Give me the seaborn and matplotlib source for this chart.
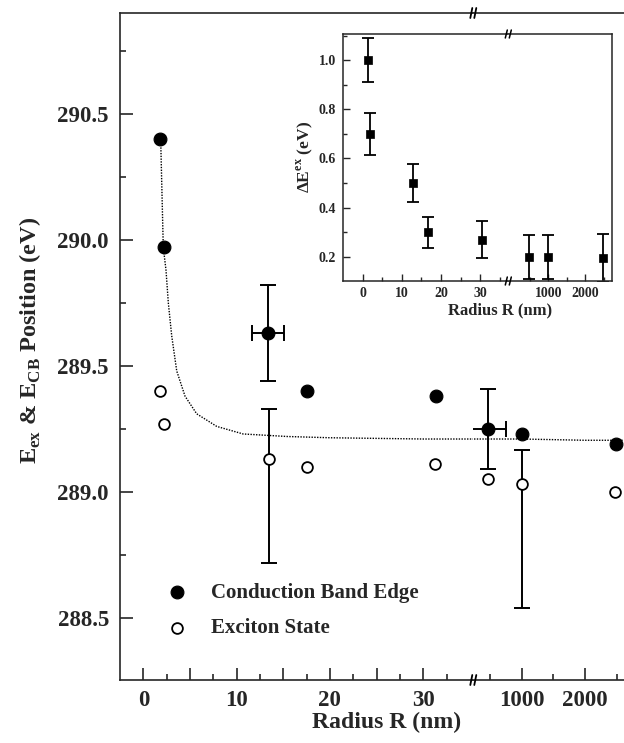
import matplotlib
matplotlib.use("Agg")
import matplotlib.pyplot as plt
import matplotlib.ticker as ticker
from matplotlib.lines import Line2D
import pandas as pd
import seaborn as sns

W, H = 624, 743

# conduction band edge (filled) and exciton state (open); radius in nm
radius_cb = [1.8, 2.25, 13.4, 17.5, 31.4, 468, 1000, 2485]
energy_cb = [290.40, 289.97, 289.63, 289.40, 289.38, 289.25, 289.23, 289.19]
radius_ex = [1.8, 2.25, 13.5, 17.5, 31.3, 468, 1000, 2474]
energy_ex = [289.40, 289.27, 289.13, 289.10, 289.11, 289.05, 289.03, 289.00]

# error bars on selected points
cb_err_idx = [2, 5]
cb_yerr = [0.19, 0.16]
cb_xerr = [1.7, 276]
ex_err_idx = [2, 6]
ex_yerr_lo = [0.41, 0.49]
ex_yerr_hi = [0.20, 0.135]

# dotted guide curve
fit_radius = [1.86, 2.14, 2.43, 2.68, 3.04, 3.58, 4.47, 5.72, 7.87, 10.7, 15.4,
              20, 30, 35.4, 235, 1000, 2000, 2616]
fit_energy = [290.40, 289.97, 289.88, 289.75, 289.62, 289.48, 289.38, 289.31,
              289.26, 289.23, 289.22, 289.215, 289.21, 289.21, 289.21, 289.21,
              289.205, 289.205]

# inset: exciton shift
inset_radius = [1.3, 1.9, 12.8, 16.8, 30.6, 480, 1000, 2470]
inset_shift = [1.00, 0.70, 0.50, 0.30, 0.27, 0.20, 0.20, 0.195]
inset_err = [0.09, 0.087, 0.076, 0.063, 0.075, 0.09, 0.09, 0.097]

cb = pd.DataFrame({"R": radius_cb, "E": energy_cb})
cb["yerr"] = 0.0
cb["xerr"] = 0.0
cb.loc[cb_err_idx, "yerr"] = cb_yerr
cb.loc[cb_err_idx, "xerr"] = cb_xerr
ex = pd.DataFrame({"R": radius_ex, "E": energy_ex})
ex["lo"] = 0.0
ex["hi"] = 0.0
ex.loc[ex_err_idx, "lo"] = ex_yerr_lo
ex.loc[ex_err_idx, "hi"] = ex_yerr_hi
fit = pd.DataFrame({"R": fit_radius, "E": fit_energy})
ins = pd.DataFrame({"R": inset_radius, "dE": inset_shift, "err": inset_err})

BREAK = 100  # radii below this go on the left segment

sns.set_theme(style="ticks")
plt.rcParams["font.family"] = ["Liberation Serif", "DejaVu Serif"]
plt.rcParams["font.weight"] = "bold"
plt.rcParams["mathtext.fontset"] = "custom"
plt.rcParams["mathtext.rm"] = "Liberation Serif:bold"
plt.rcParams["mathtext.bf"] = "Liberation Serif:bold"
plt.rcParams["axes.linewidth"] = 1.2


def px_rect(x0, y0, x1, y1):
    return [x0 / W, 1 - y1 / H, (x1 - x0) / W, (y1 - y0) / H]


def draw_break(fig, x, y, size=5, lw=1.3):
    for dx in (-2.0, 2.0):
        fig.add_artist(Line2D([(x + dx - 1) / W, (x + dx + 1) / W],
                              [1 - (y + size) / H, 1 - (y - size) / H],
                              transform=fig.transFigure, color="black", lw=lw))


def side(df, left):
    return df[df["R"] < BREAK] if left else df[df["R"] >= BREAK]


fig = plt.figure(figsize=(W / 100, H / 100), dpi=100)

ax_l = fig.add_axes(px_rect(120, 13, 473.3, 680))
ax_r = fig.add_axes(px_rect(473.3, 13, 624, 680), sharey=ax_l)

for ax, left in ((ax_l, True), (ax_r, False)):
    sns.lineplot(data=fit, x="R", y="E", ax=ax, sort=False, estimator=None,
                 color="black", lw=1.0, linestyle=(0, (1, 1)), legend=False)
    c = side(cb, left)
    c = c[c["yerr"] > 0]
    ax.errorbar(c["R"], c["E"], yerr=c["yerr"], xerr=c["xerr"], fmt="none",
                ecolor="black", elinewidth=1.4, capsize=6, capthick=1.4)
    e = side(ex, left)
    e = e[e["lo"] > 0]
    ax.errorbar(e["R"], e["E"], yerr=[e["lo"], e["hi"]], fmt="none",
                ecolor="black", elinewidth=1.4, capsize=6, capthick=1.4)
    sns.scatterplot(data=side(cb, left), x="R", y="E", ax=ax, color="black", s=85,
                    edgecolor="black", linewidth=0.8, zorder=5,
                    label="Conduction Band Edge" if left else None, legend=False)
    sns.scatterplot(data=side(ex, left), x="R", y="E", ax=ax, color="white", s=60,
                    edgecolor="black", linewidth=1.3, zorder=5,
                    label="Exciton State" if left else None, legend=False)
    ax.set_xlabel("")
    ax.set_ylabel("")

ax_l.set_xlim(-2.5, 35.37)
ax_r.set_xlim(235, 2616)
ax_l.set_ylim(288.254, 290.90)

ax_l.xaxis.set_major_locator(ticker.FixedLocator([0, 5, 10, 15, 20, 25, 30]))
ax_l.xaxis.set_major_formatter(ticker.FuncFormatter(
    lambda v, p: f"{v:.0f}" if round(v) % 10 == 0 else ""))
ax_l.xaxis.set_minor_locator(ticker.FixedLocator([2.5, 7.5, 12.5, 17.5, 22.5, 27.5, 32.5]))
ax_r.xaxis.set_major_locator(ticker.FixedLocator([1000, 2000]))
ax_r.xaxis.set_minor_locator(ticker.FixedLocator([500, 1500, 2500]))
ax_l.yaxis.set_major_locator(ticker.MultipleLocator(0.5))
ax_l.yaxis.set_minor_locator(ticker.MultipleLocator(0.25))
ax_l.yaxis.set_major_formatter(ticker.FormatStrFormatter("%.1f"))

for ax in (ax_l, ax_r):
    ax.tick_params(which="major", direction="in", length=9, width=1.2,
                   labelsize=16.5, pad=7)
    ax.tick_params(which="minor", direction="in", length=4, width=1.2)
    ax.spines["right"].set_visible(False)
ax_r.spines["left"].set_visible(False)
ax_r.tick_params(axis="y", which="both", left=False, labelleft=False)
ax_l.tick_params(axis="y", pad=8)

ax_l.legend(loc="upper left", bbox_to_anchor=(0.133, 0.146), frameon=False,
            handlelength=1.0, handletextpad=1.1, borderpad=0,
            borderaxespad=0, labelspacing=0.75, prop={"weight": "bold", "size": 15})

fig.text(387 / W, 1 - 722 / H, "Radius R (nm)", ha="center", va="center",
         fontsize=17, fontweight="bold")
fig.text(30 / W, 1 - 340 / H, r"E$_{\mathrm{ex}}$ & E$_{\mathrm{CB}}$ Position (eV)",
         ha="center", va="center", rotation=90, fontsize=17.5, fontweight="bold")

# inset
ax_il = fig.add_axes(px_rect(343, 34, 508.3, 281))
ax_ir = fig.add_axes(px_rect(508.3, 34, 612, 281), sharey=ax_il)
for ax, left in ((ax_il, True), (ax_ir, False)):
    d = side(ins, left)
    ax.set_facecolor("white")
    ax.errorbar(d["R"], d["dE"], yerr=d["err"], fmt="none", ecolor="black",
                elinewidth=1.3, capsize=4, capthick=1.3)
    sns.scatterplot(data=d, x="R", y="dE", ax=ax, marker="s", color="black",
                    s=28, edgecolor="black", linewidth=0.5, zorder=5, legend=False)
    ax.set_xlabel("")
    ax.set_ylabel("")
    ax.tick_params(which="major", direction="in", length=5, width=1.0,
                   labelsize=10, pad=4)
    ax.tick_params(which="minor", direction="in", length=3, width=1.0)
    for s in ax.spines.values():
        s.set_linewidth(1.1)

ax_il.set_xlim(-5.04, 37.2)
ax_ir.set_xlim(-81, 2722)
ax_il.set_ylim(0.101, 1.107)
ax_il.spines["right"].set_visible(False)
ax_ir.spines["left"].set_visible(False)
ax_ir.tick_params(axis="y", which="both", left=False, labelleft=False)
ax_il.tick_params(axis="y", pad=5)
ax_il.xaxis.set_major_locator(ticker.FixedLocator([0, 10, 20, 30]))
ax_il.xaxis.set_minor_locator(ticker.FixedLocator([5, 15, 25, 35]))
ax_ir.xaxis.set_major_locator(ticker.FixedLocator([1000, 2000]))
ax_ir.xaxis.set_minor_locator(ticker.FixedLocator([500, 1500, 2500]))
ax_il.yaxis.set_major_locator(ticker.MultipleLocator(0.2))
ax_il.yaxis.set_minor_locator(ticker.MultipleLocator(0.1))
ax_il.yaxis.set_major_formatter(ticker.FormatStrFormatter("%.1f"))

fig.text(500 / W, 1 - 310 / H, "Radius R (nm)", ha="center", va="center",
         fontsize=12, fontweight="bold")
fig.text(305 / W, 1 - 157 / H, r"ΔE$^{\mathrm{ex}}$ (eV)", ha="center",
         va="center", rotation=90, fontsize=12.5, fontweight="bold")

# axis break marks
draw_break(fig, 473.3, 13)
draw_break(fig, 473.3, 680)
draw_break(fig, 508.3, 34, size=4, lw=1.1)
draw_break(fig, 508.3, 281, size=4, lw=1.1)

fig.savefig("out.png", dpi=100)
